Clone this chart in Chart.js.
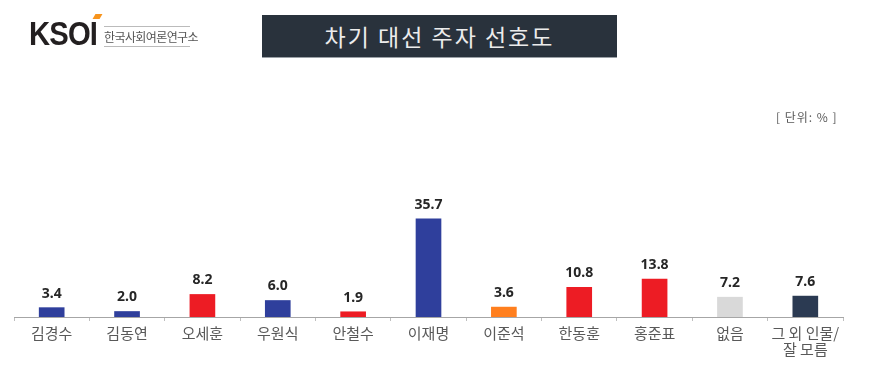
<!DOCTYPE html>
<html>
<head>
<meta charset="utf-8">
<script src="https://cdn.jsdelivr.net/npm/chart.js@4"></script>
<style>
    body { margin: 0; background: #ffffff; }
    #wrap { position: relative; width: 870px; height: 384px; overflow: hidden; font-family: "Noto Sans CJK KR", "Noto Sans", sans-serif; }
    #chart-canvas { position: absolute; left: 0; top: 0; }
    .logo-mark { position: absolute; left: 29px; top: 13px; font-family: "Liberation Sans", sans-serif; font-weight: bold; font-size: 34px; letter-spacing: -1px; color: #231f20; line-height: 40px; transform: scaleX(0.86); transform-origin: left center; }
    .logo-acc { position: absolute; left: 94px; top: 14px; width: 7px; height: 5px; background: #f7941d; transform: skewX(-30deg); }
    .logo-name { position: absolute; left: 104px; top: 26px; width: 86px; font-size: 12px; color: #555; line-height: 19px; letter-spacing: -0.6px; border-top: 1px solid #bbb; border-bottom: 1px solid #bbb; white-space: nowrap; }
    .title-box { position: absolute; left: 262px; top: 15px; width: 355px; height: 42px; background: #29323c; border-bottom: 1px solid #9aa0a6; color: #ececec; font-size: 23px; letter-spacing: 2px; text-align: center; line-height: 42px; }
    .unit { position: absolute; left: 776px; top: 108px; font-size: 12px; color: #595959; letter-spacing: 1px; }
</style>
</head>
<body>
<div id="wrap">
    <canvas id="chart-canvas" width="870" height="384"></canvas>
    <div class="logo-mark">KSOI</div>
    <div class="logo-acc"></div>
    <div class="logo-name">한국사회여론연구소</div>
    <div class="title-box">차기 대선 주자 선호도</div>
    <div class="unit">[ 단위: % ]</div>
</div>
<script>
// 후보별 선호도 (%)
const candidates = ['김경수', '김동연', '오세훈', '우원식', '안철수', '이재명', '이준석', '한동훈', '홍준표', '없음', ['그 외 인물/', '잘 모름']];
const preference = [3.4, 2.0, 8.2, 6.0, 1.9, 35.7, 3.6, 10.8, 13.8, 7.2, 7.6];
const barColors = ['#2f3f9c', '#2f3f9c', '#ed1c24', '#2f3f9c', '#ed1c24', '#2f3f9c', '#ff7f1e', '#ed1c24', '#ed1c24', '#d9d9d9', '#2b3a52'];

// 막대 위 값 표시
const valueLabels = {
    id: 'valueLabels',
    afterDatasetsDraw(chart) {
        const ctx = chart.ctx;
        const meta = chart.getDatasetMeta(0);
        ctx.save();
        ctx.font = 'bold 14px "Noto Sans", "DejaVu Sans", sans-serif';
        ctx.fillStyle = '#262626';
        ctx.textAlign = 'center';
        ctx.textBaseline = 'middle';
        meta.data.forEach((bar, i) => {
            ctx.fillText(preference[i].toFixed(1), bar.x, bar.y - 14);
        });
        ctx.restore();
    }
};

const ctx = document.getElementById('chart-canvas').getContext('2d');
const chart = new Chart(ctx, {
    type: 'bar',
    data: {
        labels: candidates,
        datasets: [{
            data: preference,
            backgroundColor: barColors,
            barThickness: 25
        }]
    },
    options: {
        responsive: false,
        animation: false,
        layout: {
            padding: { left: 14, right: 27, top: 152, bottom: 0 }
        },
        plugins: {
            legend: { display: false },
            tooltip: { enabled: false }
        },
        scales: {
            x: {
                offset: true,
                afterFit(scale) {
                    scale.height = 67;
                },
                grid: {
                    offset: true,
                    drawOnChartArea: false,
                    drawTicks: true,
                    tickLength: 4,
                    color: '#bfbfbf'
                },
                border: { color: '#a6a6a6', width: 1 },
                ticks: {
                    autoSkip: false,
                    maxRotation: 0,
                    padding: 4,
                    color: '#595959',
                    font: { size: 15, family: '"Noto Sans CJK KR", sans-serif', lineHeight: 1.1 }
                }
            },
            y: {
                display: false,
                min: 0,
                max: 60
            }
        }
    },
    plugins: [valueLabels]
});
</script>
</body>
</html>
